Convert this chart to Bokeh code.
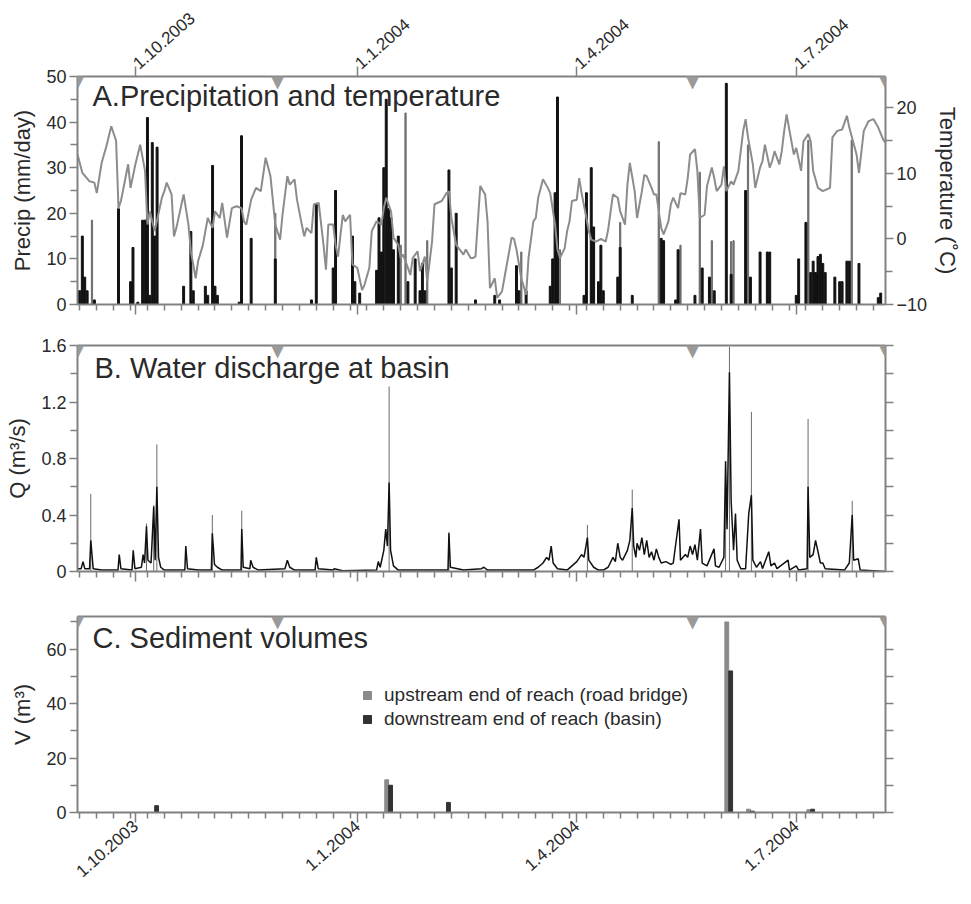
from datetime import date
from bokeh.plotting import figure
from bokeh.models import (Range1d, LinearAxis, FixedTicker, Label, Legend, LegendItem,
                          CustomLabelingPolicy)
from bokeh.layouts import column
from bokeh.embed import file_html
from bokeh.resources import INLINE
from bokeh.transform import dodge

# ---------------- data ----------------
START = date(2003, 9, 7)          # left edge of the time axis
END = date(2004, 8, 7)            # right edge of the time axis
tick_dates = [date(2003, 10, 1), date(2004, 1, 1), date(2004, 4, 1), date(2004, 7, 1)]
tick_labels = ["1.10.2003", "1.1.2004", "1.4.2004", "1.7.2004"]
survey_dates = [date(2003, 9, 7), date(2003, 11, 29), date(2004, 5, 19), date(2004, 8, 7)]

# precipitation (days since 7.9.2003, mm/day) - main gauge (black)
precip_day = [0, 1, 2, 3, 4, 7, 17, 22, 23, 25, 27, 28, 29, 30, 31, 32, 33, 44, 47, 48, 53, 54,
              56, 57, 58, 67, 68, 72, 82, 97, 99, 106, 107, 114, 115, 117, 124, 125, 126, 127,
              128, 129, 130, 131, 133, 137, 140, 142, 143, 144, 154, 155, 157, 165, 173, 175,
              182, 183, 186, 196, 197, 198, 199, 210, 211, 213, 214, 216, 217, 218, 224, 225,
              230, 242, 243, 248, 249, 256, 259, 262, 264, 269, 271, 277, 279, 283, 286, 287,
              298, 299, 302, 304, 305, 306, 307, 308, 309, 310, 314, 316, 317, 319, 320, 324,
              332, 333]
precip_val = [3, 3, 15, 6, 3, 1, 21, 5, 12.5, 0.5, 18.5, 18.5, 41, 2, 35.5, 15, 34.5, 4, 16, 3, 4, 2,
              30.5, 4, 2, 0.5, 37, 14.5, 10, 1, 22, 8, 25, 15, 5, 2.5, 7.5, 19, 11.5, 30,
              45, 21, 19, 12, 15, 5, 10, 3, 9, 3, 29.5, 8, 20, 1, 2, 1,
              8.5, 3, 3, 4, 10, 24.5, 45.5, 2, 24.5, 30, 17, 5, 13, 3, 6, 12.5,
              2, 14.5, 14, 1, 12, 2, 8, 6, 3, 48.5, 6.6, 25, 6, 11.5, 11.5, 11.5,
              2, 10, 18, 7, 9.5, 7, 10.5, 11, 9, 7, 6, 5, 5, 9.5, 9.5, 9,
              1.5, 2.5]
# precipitation - second gauge (grey)
precip2_day = [6, 82, 134, 136, 145, 184, 200, 225, 241, 250, 258, 263, 271, 272, 278, 303, 321]
precip2_val = [18.5, 20, 13, 42, 14, 11.5, 12, 18, 35.7, 13, 29, 14, 13.8, 14, 35, 36, 36]

# air temperature (days since 7.9.2003, deg C)
temp_day = [0, 2, 5, 7, 8, 10, 12, 14, 16, 17, 18, 21, 22, 24, 26, 28, 29, 30, 32, 35, 36, 37, 39,
            40, 41, 44, 46, 47, 49, 50, 52, 54, 56, 57, 59, 60, 62, 64, 66, 68, 69, 70, 72, 74,
            76, 78, 80, 82, 84, 85, 87, 88, 90, 91, 93, 94, 95, 97, 98, 100, 102, 103, 104, 106,
            107, 108, 110, 111, 113, 114, 116, 118, 119, 121, 122, 124, 126, 127, 128, 130, 131,
            133, 134, 135, 137, 138, 139, 141, 142, 144, 145, 147, 148, 151, 153, 154, 155, 157,
            158, 160, 161, 163, 164, 165, 167, 169, 170, 171, 173, 174, 176, 178, 180, 181, 182,
            184, 186, 187, 189, 190, 191, 193, 195, 196, 198, 199, 200, 202, 203, 204, 205, 207,
            208, 209, 211, 212, 213, 215, 217, 219, 220, 222, 224, 225, 227, 228, 229, 231, 232,
            234, 235, 236, 238, 239, 240, 242, 243, 245, 246, 247, 249, 250, 252, 253, 254, 256,
            257, 258, 260, 261, 263, 264, 265, 267, 268, 269, 271, 272, 274, 276, 277, 278, 280,
            281, 283, 284, 285, 287, 288, 289, 291, 292, 293, 294, 296, 297, 298, 300, 301, 303,
            304, 305, 307, 309, 312, 313, 315, 317, 319, 320, 323, 324, 326, 328, 330, 332, 334,
            335]
temp_val = [12.9, 10.1, 8.8, 8.6, 7.0, 11.6, 14.2, 17.2, 15, 4.7, 5.8, 11.4, 7.8, 11.4, 14.4, 10.4,
            2.2, 4.2, 1.2, 6.3, 7.3, 8.6, 6.8, 0.4, 1.7, 6.8, 2.2, -1.9, -6, -3.4, -0.9, 3.2, 1.7,
            4.2, 3.2, 5.5, 0.2, 4.7, 5, 4.7, 2.7, 2.2, 6, 7.8, 7.3, 12.4, 9.6, 2.2, -0.1, 3.7, 9.6,
            8.3, 9.1, 6, 2.2, 0.4, 1.7, 0.9, 5.3, 5.5, -0.9, -4.7, 2.2, 2.2, -0.9, -2.7, 3.7, 2.7,
            3.7, -3.9, -4.4, -7.8, -7, -4.4, 1.2, 2.7, 2.2, 4.7, 6.3, 4.2, 0.2, -0.9, -2.9, -2.4,
            -4.4, -5.5, -2.9, -1.9, -4.9, -2.7, -6.5, -0.4, 5.3, 5.8, 7, 7.3, 3.2, -0.9, -1.4,
            -2.4, -1.6, -2.9, -2.9, -2.7, 8.1, 6.8, 2.7, -7.5, -6, -9, -8, -3.9, 0.2, 0, -1.6, -6,
            -8.5, -2.9, 2.7, 3.2, 6.3, 9.1, 7.8, 7, 2.2, -1.6, -2.9, -1.4, 1.2, 2.7, 5.8, 6, 9.3,
            7, 3.2, 1.2, -0.1, -0.4, 0, -0.4, 1.4, 6.8, 6.3, 4.2, 2.2, 8.3, 11.6, 7.3, 3.2, 7.3,
            9.8, 9.6, 7.8, 6.8, 6.8, 1.7, 0.7, 2.7, 5.3, 6.3, 4.7, 7, 6.8, 9.3, 12.9, 13.7, 10.4,
            3.2, 3.7, 8.1, 10.9, 9.3, 7.3, 8.3, 11.1, 7.3, 8.8, 8.3, 10.4, 16.5, 18.3, 15.5, 11.4,
            7.8, 10.9, 11.9, 14.4, 10.9, 11.9, 13.4, 11.4, 13.4, 16.5, 19, 14.9, 12.9, 13.9, 10.4,
            14.9, 16, 14.9, 10.4, 7.8, 7.3, 7.8, 15.5, 16.5, 16.7, 18.8, 17, 12.9, 10.1, 16.5, 18,
            18.3, 17, 15.2, 14.7]

# water discharge at the basin (days since 7.9.2003, m3/s)
q_day = [0, 1.5, 2.3, 3, 5, 5.5, 6.5, 10, 16.8, 17.3, 18, 22.6, 23.1, 23.8, 26.5, 27.2, 27.8, 28.6,
         29.2, 30.5, 31.6, 32.2, 32.9, 33.6, 34.5, 36, 44.5, 44.9, 45.6, 50, 55.5, 55.9, 56.8, 58,
         60, 67.8, 68.1, 68.7, 71.5, 71.8, 72.8, 75, 86, 87, 88, 90, 98.5, 99, 99.8, 106, 106.4,
         110, 124, 124.7, 125.5, 127, 127.8, 128.5, 129.2, 129.8, 131, 133, 153.6, 154, 154.6,
         160, 167.5, 168.5, 170, 189, 191, 193, 194.5, 195.5, 196.4, 197.2, 199, 203, 205, 207,
         209, 210, 211.4, 212, 214, 216, 218, 220, 222, 223, 224, 225, 226, 228, 229, 230, 230.6,
         231.5, 232, 233, 234, 235, 236, 237, 238, 239, 240, 241, 242, 244, 246, 247, 249.4, 250,
         252, 253, 254, 255, 256, 257, 258.3, 259, 261, 263.9, 264.5, 266, 268, 268.7, 269.3,
         270.3, 271, 272, 272.8, 273.5, 275, 277, 278.3, 279.4, 280, 281.5, 283.2, 284, 286.6,
         287.5, 289, 290, 294.6, 295.2, 298, 299, 302.5, 302.9, 303.6, 305, 306, 306.9, 308, 309,
         310, 318, 320, 321.2, 321.8, 323.7, 324.5, 335]
q_val = [0.02, 0.02, 0.07, 0.02, 0.02, 0.22, 0.02, 0.01, 0.01, 0.12, 0.02, 0.01, 0.15, 0.02, 0.03,
         0.12, 0.06, 0.32, 0.08, 0.06, 0.46, 0.08, 0.6, 0.1, 0.03, 0.01, 0.01, 0.18, 0.02, 0.01,
         0.01, 0.27, 0.05, 0.03, 0.01, 0.01, 0.3, 0.03, 0.02, 0.08, 0.03, 0.01, 0.02, 0.08, 0.03,
         0.01, 0.01, 0.1, 0.02, 0.01, 0.02, 0.005, 0.01, 0.07, 0.03, 0.15, 0.3, 0.18, 0.63, 0.15,
         0.04, 0.01, 0.01, 0.27, 0.03, 0.01, 0.02, 0.03, 0.01, 0.01, 0.03, 0.06, 0.1, 0.08, 0.18,
         0.06, 0.02, 0.01, 0.04, 0.07, 0.12, 0.1, 0.24, 0.08, 0.03, 0.01, 0.01, 0.03, 0.1, 0.07,
         0.2, 0.1, 0.08, 0.15, 0.22, 0.45, 0.18, 0.1, 0.2, 0.15, 0.24, 0.12, 0.22, 0.1, 0.14, 0.08,
         0.16, 0.1, 0.06, 0.07, 0.05, 0.06, 0.37, 0.08, 0.12, 0.1, 0.18, 0.12, 0.19, 0.08, 0.3,
         0.06, 0.04, 0.16, 0.04, 0.03, 0.1, 0.78, 0.3, 1.41, 0.5, 0.15, 0.41, 0.08, 0.02, 0.02,
         0.41, 0.54, 0.08, 0.03, 0.07, 0.02, 0.14, 0.04, 0.06, 0.02, 0.08, 0.01, 0.04, 0.01, 0.02,
         0.6, 0.1, 0.12, 0.22, 0.15, 0.06, 0.06, 0.02, 0.01, 0.06, 0.4, 0.08, 0.09, 0.01, 0.0]
# short-interval discharge peaks (grey)
qpeak_day = [5.5, 28.6, 31.6, 32.9, 55.9, 68.1, 129.2, 154, 211.4, 230, 268.7, 270.3, 279.4, 302.9,
             321.2]
qpeak_val = [0.55, 0.34, 0.47, 0.9, 0.4, 0.43, 1.31, 0.28, 0.33, 0.58, 0.78, 1.59, 1.13, 1.08, 0.5]

# sediment volumes (days since 7.9.2003, m3)
sed_day = [32, 129, 153, 270, 279, 304]
sed_upstream = [0, 12, 0, 70, 1.2, 1.0]
sed_downstream = [2.5, 10, 3.7, 52, 0.5, 1.2]

# ---------------- helpers / style ----------------
FONT = "Liberation Sans"
AX = "#808080"
TXT = "#2a2a2a"
FRAME_W = 808
NO_LABELS = CustomLabelingPolicy(code="return []")


def dnum(d):
    return (d - START).days


X_END = dnum(END)
major_x = [dnum(d) for d in tick_dates]
minor_x = list(range(1, X_END + 1, 7))   # weekly ticks (Mondays)
survey_x = [dnum(d) for d in survey_dates]


def make_fig(frame_h, top, bottom, y0, y1):
    p = figure(frame_width=FRAME_W, frame_height=frame_h, x_axis_type=None, y_axis_type=None,
               x_range=Range1d(0, X_END), y_range=Range1d(y0, y1),
               min_border_left=77, min_border_right=70, min_border_top=top,
               min_border_bottom=bottom, toolbar_location=None, output_backend="svg",
               outline_line_color=None, background_fill_color="white")
    return p


def style_axis(ax, labels=True):
    ax.axis_line_color = AX
    ax.axis_line_width = 2
    ax.major_tick_line_color = AX
    ax.minor_tick_line_color = AX
    ax.major_tick_line_width = 1.5
    ax.minor_tick_line_width = 1.5
    ax.major_tick_in = 0
    ax.minor_tick_in = 0
    ax.major_label_text_font = FONT
    ax.major_label_text_color = TXT
    ax.major_label_text_font_size = "18px"
    ax.major_label_standoff = 3
    if not labels:
        ax.major_label_policy = NO_LABELS
        ax.major_label_text_font_size = "0px"
        ax.major_label_standoff = 0
    ax.axis_label_text_font = FONT
    ax.axis_label_text_font_size = "22px"
    ax.axis_label_text_font_style = "normal"
    ax.axis_label_text_color = TXT
    ax.axis_label_standoff = 8


def time_axis(p, side, labels, ticks=True):
    if ticks:
        tk = FixedTicker(ticks=major_x, minor_ticks=(minor_x if side == "below" else []))
    else:
        tk = FixedTicker(ticks=[])
    ax = LinearAxis(ticker=tk)
    style_axis(ax, labels)
    ax.major_tick_out = 10 if ticks else 0
    ax.minor_tick_out = 6
    if labels:
        ax.major_label_overrides = {m: l for m, l in zip(major_x, tick_labels)}
        ax.major_label_orientation = 0.72
        ax.major_label_text_font_size = "17px"
        ax.major_label_standoff = 1
    p.add_layout(ax, side)


def value_axis(p, side, ticks, minor, labels=True, label="", overrides=None, rng=None):
    kw = {"y_range_name": rng} if rng else {}
    ax = LinearAxis(ticker=FixedTicker(ticks=ticks, minor_ticks=minor), axis_label=label, **kw)
    style_axis(ax, labels)
    ax.major_tick_out = 8
    ax.minor_tick_out = 7
    if side == "right":
        ax.axis_label_standoff = 5
    if overrides:
        ax.major_label_overrides = overrides
    p.add_layout(ax, side)
    return ax


def surveys(p, y0, y1, frame_h):
    per_px = (y1 - y0) / frame_h
    for sx in survey_x:
        p.add_layout(Label(x=sx, y=y1 - 3 * per_px, text="\u25bc", text_align="center",
                           text_baseline="middle", text_font="DejaVu Sans",
                           text_font_size="21px", text_color="#9a9a9a"))


def title(p, text, x, y):
    p.add_layout(Label(x=x, y=y, x_units="screen", y_units="screen", text=text,
                       text_font=FONT, text_font_size="29px", text_color=TXT))


# ---------------- panel A ----------------
FA, FB, FC = 228, 226, 196
pa = make_fig(FA, 76, 14, 0, 50)
pa.extra_y_ranges = {"temp": Range1d(-10, 24.8)}
pa.vbar(x=precip2_day, top=precip2_val, width=0.5, color="#6e6e6e")
pa.vbar(x=precip_day, top=precip_val, width=0.8, color="#111111")
pa.line(temp_day, temp_val, y_range_name="temp", color="#8c8c8c", line_width=2)
value_axis(pa, "left", [0, 10, 20, 30, 40, 50], [5, 15, 25, 35, 45], label="Precip (mm/day)")
value_axis(pa, "right", [-10, 0, 10, 20], [-5, 5, 15], label="Temperature (\u02daC)", rng="temp")
time_axis(pa, "above", True)
time_axis(pa, "below", False)
surveys(pa, 0, 50, FA)
title(pa, "A.Precipitation and temperature", 15, FA - 35)

# ---------------- panel B ----------------
pb = make_fig(FB, 27, 17, 0, 1.6)
pb.segment(x0=qpeak_day, y0=[0] * len(qpeak_day), x1=qpeak_day, y1=qpeak_val,
           color="#6a6a6a", line_width=1)
pb.line(q_day, q_val, color="#111111", line_width=1.5)
value_axis(pb, "left", [0, 0.4, 0.8, 1.2, 1.6], [0.2, 0.6, 1.0, 1.4], label="Q (m\u00b3/s)",
           overrides={0: "0", 0.4: "0.4", 0.8: "0.8", 1.2: "1.2", 1.6: "1.6"})
value_axis(pb, "right", [0, 0.2, 0.4, 0.6, 0.8, 1.0, 1.2, 1.4, 1.6], [], labels=False)
time_axis(pb, "above", False, ticks=False)
time_axis(pb, "below", False)
surveys(pb, 0, 1.6, FB)
title(pb, "B. Water discharge at basin", 17, FB - 38)

# ---------------- panel C ----------------
pc = make_fig(FC, 28, 76, 0, 72)
bw = 1.6
src = {"x": sed_day, "up": sed_upstream, "down": sed_downstream}
r_up = pc.vbar(x=dodge("x", -bw / 2), top="up", width=bw, color="#8a8a8a", source=src)
r_dn = pc.vbar(x=dodge("x", bw / 2), top="down", width=bw, color="#333333", source=src)
value_axis(pc, "left", [0, 20, 40, 60], [10, 30, 50, 70], label="V (m\u00b3)")
value_axis(pc, "right", [0, 10, 20, 30, 40, 50, 60], [], labels=False)
time_axis(pc, "above", False, ticks=False)
time_axis(pc, "below", True)
surveys(pc, 0, 72, FC)
title(pc, "C. Sediment volumes", 15, FC - 37)
leg = Legend(items=[LegendItem(label="upstream end of reach (road bridge)", renderers=[r_up]),
                    LegendItem(label="downstream end of reach (basin)", renderers=[r_dn])],
             location=(285, 82), border_line_color=None, background_fill_alpha=0,
             padding=0, margin=0, spacing=2, glyph_width=10, glyph_height=10,
             label_standoff=12, label_height=10, label_text_font=FONT,
             label_text_font_size="19px", label_text_color=TXT)
pc.add_layout(leg, "center")

layout = column(pa, pb, pc, spacing=0)
with open("out.html", "w") as f:
    f.write(file_html(layout, INLINE))
